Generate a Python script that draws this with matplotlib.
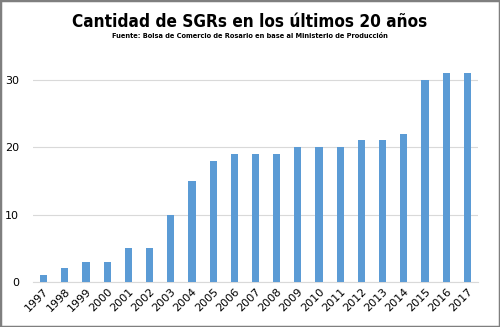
import matplotlib.pyplot as plt
from matplotlib.patches import Rectangle
import numpy as np

years = ['1997', '1998', '1999', '2000', '2001', '2002', '2003', '2004', '2005', '2006', '2007',
         '2008', '2009', '2010', '2011', '2012', '2013', '2014', '2015', '2016', '2017']
sgrs = [1, 2, 3, 3, 5, 5, 10, 15, 18, 19, 19, 19, 20, 20, 20, 21, 21, 22, 30, 31, 31]
yticks = [0, 10, 20, 30]

title = 'Cantidad de SGRs en los últimos 20 años'
subtitle = 'Fuente: Bolsa de Comercio de Rosario en base al Ministerio de Producción'

fig = plt.figure(figsize=(5, 3.27), dpi=100)
ax = fig.add_axes([0.066, 0.138, 0.89, 0.70])

x = np.arange(len(years))
ax.bar(x, sgrs, width=0.34, color='#5B9BD5', zorder=3)

ax.set_xlim(-0.5, len(years) - 0.5)
ax.set_ylim(0, 34)
ax.set_yticks(yticks)
ax.set_xticks(x)
ax.set_xticklabels(years, rotation=45, ha='right', rotation_mode='anchor', fontsize=8, color='#000000')
ax.tick_params(axis='y', labelsize=8, length=0, pad=10)
ax.tick_params(axis='x', length=0, pad=3)
ax.grid(axis='y', color='#D9D9D9', linewidth=0.8, zorder=0)
for s in ['top', 'right', 'left']:
    ax.spines[s].set_visible(False)
ax.spines['bottom'].set_color('#D9D9D9')

fig.text(0.5, 0.905, title, ha='center', va='bottom', fontsize=12.3, fontweight='bold',
         fontstretch='condensed', family='DejaVu Sans')
fig.text(0.5, 0.88, subtitle, ha='center', va='bottom', fontsize=5.3, fontweight='bold',
         fontstretch='condensed', family='DejaVu Sans')

# grey frame around the whole figure
fig.patches.append(Rectangle((0, 0), 1, 1, transform=fig.transFigure, fill=False,
                             edgecolor='#7F7F7F', linewidth=2.5))

fig.savefig('out.png', dpi=100)
